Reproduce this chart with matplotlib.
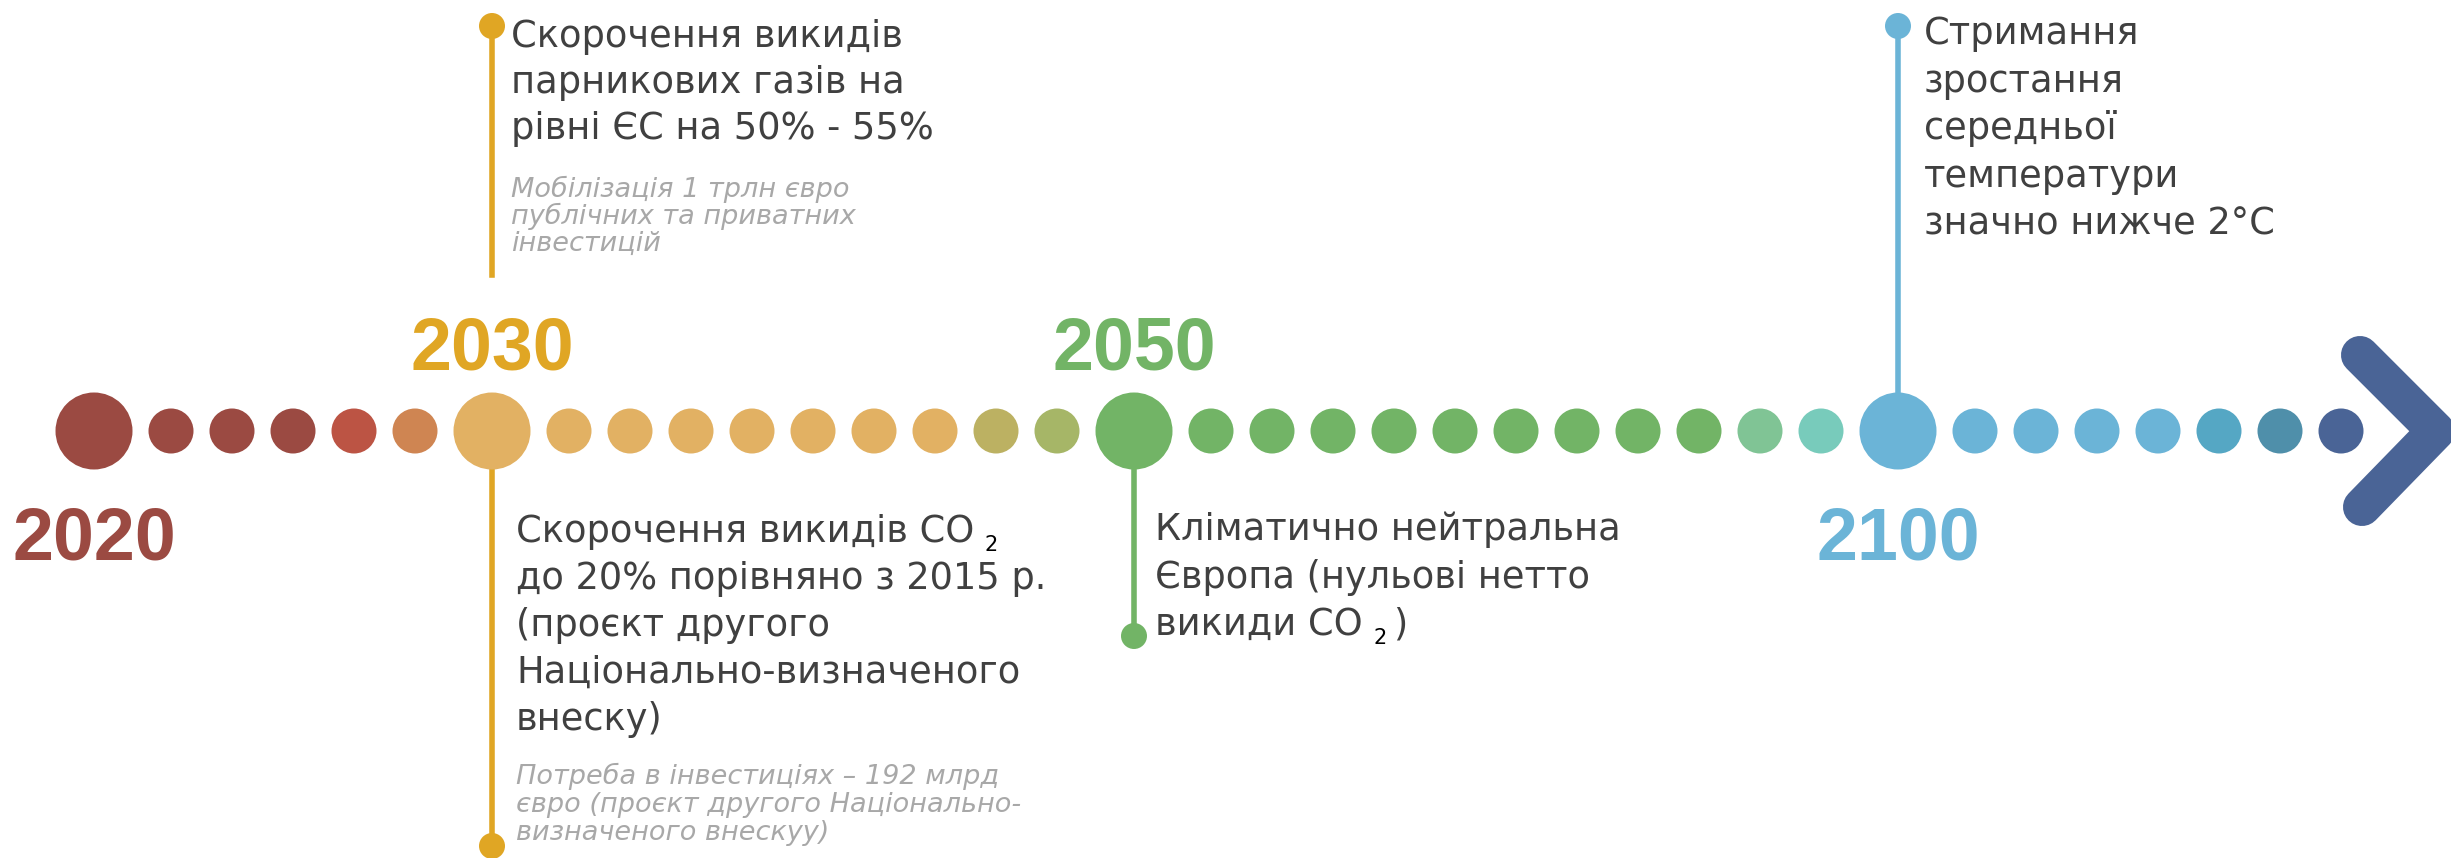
import matplotlib.pyplot as plt
from matplotlib.patches import Circle

# dots along the timeline: big ones are the milestone years
dot_kinds = ['big'] + ['small'] * 5 + ['big'] + ['small'] * 9 + ['big'] + ['small'] * 11 + ['big'] + ['small'] * 7
dot_colors = (['#9b4a42'] * 4 + ['#bc5444', '#cf8552'] +
              ['#e2b163'] * 8 + ['#bcb162', '#a6b667'] +
              ['#72b466'] * 10 + ['#80c495', '#78cbbb'] +
              ['#6bb4d7'] * 5 + ['#55a7c4', '#4f8faa', '#4a6496'])

years = ['2020', '2030', '2050', '2100']
year_colors = ['#9b4a42', '#e0a624', '#72b466', '#6bb4d7']
year_above = [False, True, True, False]

note_2030_top = ['Скорочення викидів', 'парникових газів на', 'рівні ЄС на 50% - 55%']
note_2030_top_sub = ['Мобілізація 1 трлн євро', 'публічних та приватних', 'інвестицій']
note_2030_bottom = ['Скорочення викидів CO', 'до 20% порівняно з 2015 р.', '(проєкт другого',
                    'Національно-визначеного', 'внеску)']
note_2030_bottom_sub = ['Потреба в інвестиціях – 192 млрд', 'євро (проєкт другого Національно-',
                        'визначеного внескуу)']
note_2050 = ['Кліматично нейтральна', 'Європа (нульові нетто', 'викиди CO']
note_2100 = ['Стримання', 'зростання', 'середньої', 'температури', 'значно нижче 2°C']

W, H = 2451, 858
fig = plt.figure(figsize=(W / 100, H / 100), dpi=100)
ax = fig.add_axes([0, 0, 1, 1])
ax.set_xlim(0, W)
ax.set_ylim(H, 0)
ax.axis('off')

main_font = ['DejaVu Sans']
year_font = ['Liberation Sans', 'DejaVu Sans']
text_col = '#404040'
sub_col = '#a8a8a8'

# positions of the dots
Y = 431
radius = {'big': 38.5, 'small': 22.5}
gap = 16
xs = []
x = 94
for i, k in enumerate(dot_kinds):
    if i > 0:
        x += radius[dot_kinds[i - 1]] + radius[k] + gap
    xs.append(x)
big_x = [xs[i] for i, k in enumerate(dot_kinds) if k == 'big']

# connector lines
lw = 4
x30, x50, x100 = big_x[1], big_x[2], big_x[3]
ax.plot([x30, x30], [26, 275], color='#e0a624', lw=lw, zorder=1)
ax.plot([x30, x30], [Y, 846], color='#e0a624', lw=lw, zorder=1)
ax.plot([x50, x50], [Y, 636], color='#72b466', lw=lw, zorder=1)
ax.plot([x100, x100], [26, Y], color='#6bb4d7', lw=lw, zorder=1)
for cx, cy, c in [(x30, 26, '#e0a624'), (x30, 846, '#e0a624'),
                  (x50, 636, '#72b466'), (x100, 26, '#6bb4d7')]:
    ax.add_patch(Circle((cx, cy), 13, color=c, zorder=2, lw=0))

for x, k, c in zip(xs, dot_kinds, dot_colors):
    ax.add_patch(Circle((x, Y), radius[k], color=c, zorder=3, lw=0))

# arrow head
last = xs[-1]
ax.plot([last + 19, last + 95, last + 21], [355, Y, 507], color='#4a6496', lw=27.4,
        solid_capstyle='round', solid_joinstyle='round', zorder=3)

# year labels
for bx, yr, c, up in zip(big_x, years, year_colors, year_above):
    ax.text(bx, 369 if up else 559, yr, color=c, fontsize=53, fontweight='bold',
            family=year_font, ha='center', va='baseline')


def note(x, y0, lines, step, size, color, style='normal'):
    out = []
    for i, s in enumerate(lines):
        out.append(ax.text(x, y0 + i * step, s, fontsize=size, color=color, style=style,
                           family=main_font, ha='left', va='baseline'))
    return out


def sub2(after, base):
    return ax.annotate('2', xy=(1, base + 9), xycoords=(after, 'data'), xytext=(7.5, 0),
                       textcoords='offset points', fontsize=15, color='black',
                       family=main_font, ha='left', va='baseline')


main_size = 26.5
sub_size = 19.5

note(511, 47, note_2030_top, 46, main_size, text_col)
note(511, 197, note_2030_top_sub, 27, sub_size, sub_col, 'italic')

b = note(516, 542, note_2030_bottom, 47, main_size, text_col)
sub2(b[0], 542)
note(516, 784, note_2030_bottom_sub, 28, sub_size, sub_col, 'italic')

c = note(1155, 540, note_2050, 47.5, main_size, text_col)
two = sub2(c[2], 635)
ax.annotate(')', xy=(1, 635), xycoords=(two, 'data'), xytext=(5, 0),
            textcoords='offset points', fontsize=main_size, color=text_col,
            family=main_font, ha='left', va='baseline')

note(1924, 44, note_2100, 47.7, main_size, text_col)

fig.savefig('out.png', dpi=100, facecolor='white')
